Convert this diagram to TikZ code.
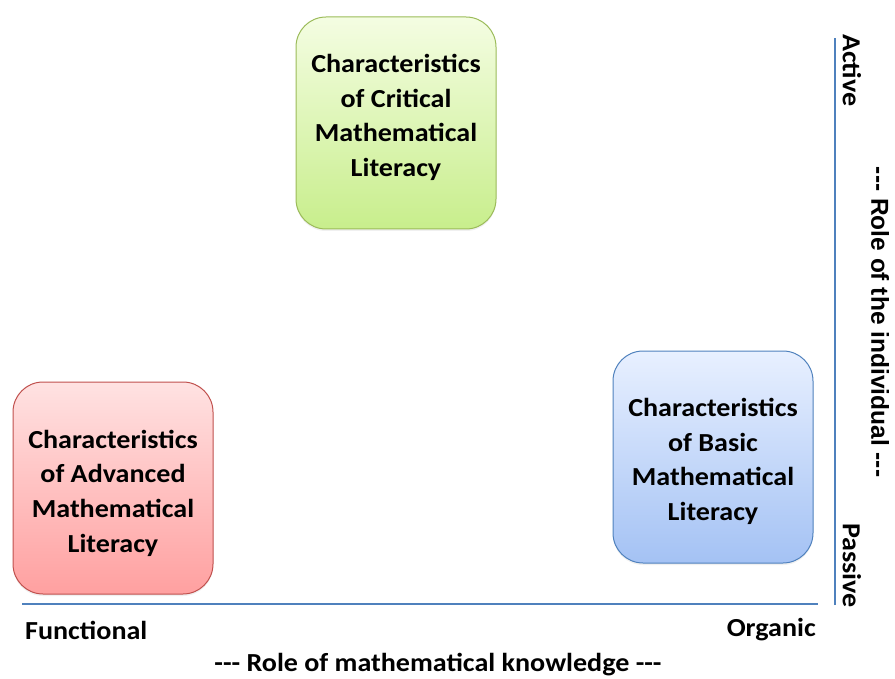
\documentclass[tikz,border=0pt]{standalone}
\usepackage{fontspec}
\setmainfont{Carlito}[FakeStretch=1.08]
\newfontfamily\helv{Liberation Sans}
\usetikzlibrary{positioning, shadows}

\definecolor{axisblue}{RGB}{79,129,189}
\definecolor{greenline}{RGB}{155,187,89}
\definecolor{redline}{RGB}{192,80,77}
\definecolor{blueline}{RGB}{79,129,189}

\begin{document}
\begin{tikzpicture}[
   x=1pt, y=-1pt,
   litbox/.style = {rounded corners=30pt, minimum width=200pt, minimum height=212pt,
                    line width=1pt,
                    drop shadow={opacity=0.12, shadow xshift=0pt, shadow yshift=-2pt}},
   littext/.style = {align=center, inner sep=0pt,
                     font=\bfseries\fontsize{26}{34.7}\selectfont},
   axislabel/.style = {font=\bfseries\fontsize{26}{30}\selectfont, inner sep=0pt},
   axisline/.style = {draw=axisblue, line width=2.5pt}]
   \useasboundingbox (0,0) rectangle (895,679);

   % the three kinds of literacy
   \node[litbox, draw=greenline, top color={rgb,255:red,244;green,253;blue,226}, bottom color={rgb,255:red,200;green,238;blue,140}] (critical) at (396,123) {};
   \node[littext] (criticaltxt) at (396,117.5) {Characteristics\\of Critical\\Mathematical\\Literacy};

   \node[litbox, draw=redline, top color={rgb,255:red,255;green,226;blue,226}, bottom color={rgb,255:red,255;green,160;blue,160}] (advanced) at (113,488) {};
   \node[littext] (advancedtxt) at (113,493) {Characteristics\\of Advanced\\Mathematical\\Literacy};

   \node[litbox, draw=blueline, top color={rgb,255:red,232;green,240;blue,255}, bottom color={rgb,255:red,164;green,194;blue,244}] (basic) at (713,457) {};
   \node[littext] (basictxt) at (713,461.5) {Characteristics\\of Basic\\Mathematical\\Literacy};

   % axes
   \coordinate (origin) at (22,604);
   \coordinate (xend) at (818,604);
   \coordinate (ybot) at (835,605);
   \coordinate (ytop) at (835,38);
   \draw[axisline] (origin) -- (xend);
   \draw[axisline] (ybot) -- (ytop);

   % labels along the bottom
   \node[axislabel, anchor=west] (functional) at (25,630) {Functional};
   \node[axislabel, anchor=east] (organic) at (816,630) {Organic};
   \node[axislabel] (knowledge) at (438,665) {-{}-{}- Role of mathematical knowledge -{}-{}-};

   % labels along the right
   \node[axislabel, rotate=-90, anchor=west] (active) at (852,34) {Active};
   \node[axislabel, rotate=-90, anchor=east] (passive) at (852,608) {Passive};
   \node[axislabel, rotate=-90, font=\helv\bfseries\fontsize{24.5}{28}\selectfont] (individual) at (880,322)
      {--- Role of the individual ---};
\end{tikzpicture}
\end{document}
